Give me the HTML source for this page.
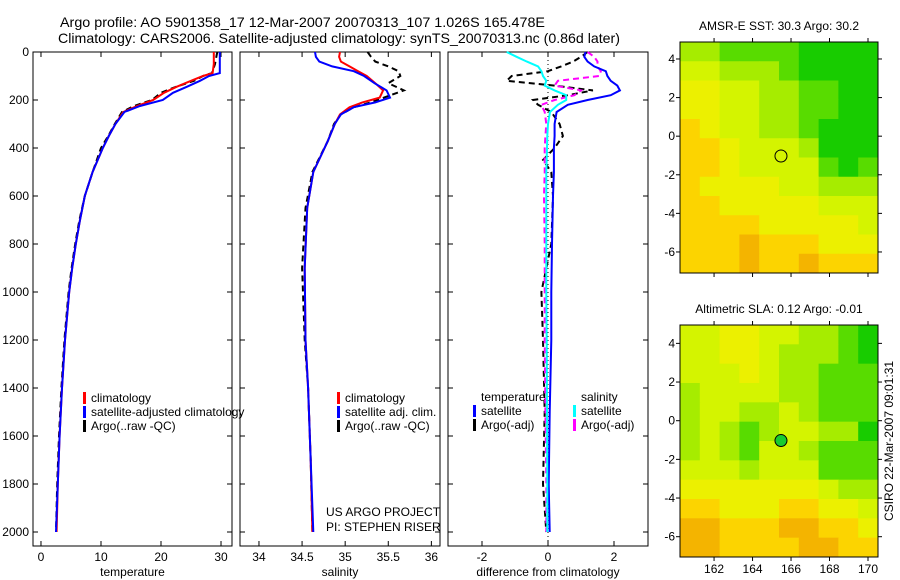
<!DOCTYPE html>
<html><head><meta charset="utf-8">
<style>
html,body{margin:0;padding:0;background:#fff;}
svg{display:block;font-family:"Liberation Sans",sans-serif;}
</style></head>
<body>
<svg id="fig" width="900" height="580" viewBox="0 0 900 580">
<text x="60" y="27" font-size="14" textLength="485" lengthAdjust="spacingAndGlyphs">Argo profile: AO 5901358_17 12-Mar-2007 20070313_107 1.026S 165.478E</text>
<text x="58" y="43" font-size="14" textLength="562" lengthAdjust="spacingAndGlyphs">Climatology: CARS2006. Satellite-adjusted climatology: synTS_20070313.nc (0.86d later)</text>
</svg>
<script>
// ---- temperature profile data ----
const tDepth=[0,10,50,88,100,120,145,170,200,225,250,300,350,400,500,600,700,800,900,1000,1200,1400,1600,1800,2000];
const tClim=[28.8,28.8,28.8,28.6,27,25,22.6,20.5,18.7,16,13.7,12.4,11.3,10.3,8.6,7.3,6.5,5.8,5.2,4.7,4.0,3.5,3.1,2.8,2.6];
const tSat=[29.8,29.8,29.8,29.8,28,26.5,24.3,22,20.3,16.5,13.9,12.4,11.3,10.3,8.6,7.3,6.5,5.8,5.2,4.7,4.0,3.5,3.1,2.8,2.5];
const tArgo=[29.4,29.3,29.0,28.5,27.0,25.5,22.5,20,18.5,15.5,13.5,12.3,11.2,10.0,8.6,7.3,6.4,5.7,5.1,4.6,3.9,3.4,3.0,2.7,2.5];
// ---- salinity profile data ----
const sDepth=[0,20,40,60,80,100,130,160,190,210,230,260,300,370,500,650,900,1200,1400,1700,2000];
const sClim=[34.94,34.93,34.95,35.05,35.15,35.25,35.35,35.44,35.4,35.2,35.05,34.94,34.88,34.8,34.63,34.56,34.53,34.54,34.57,34.6,34.62];
const sSat=[34.65,34.66,34.7,34.85,35.1,35.22,35.34,35.48,35.52,35.35,35.1,34.95,34.88,34.8,34.63,34.56,34.53,34.54,34.57,34.6,34.63];
const sArgo=[35.26,35.3,35.35,35.5,35.62,35.64,35.5,35.68,35.45,35.3,35.1,34.95,34.87,34.8,34.62,34.54,34.5,34.53,34.57,34.6,34.62];
// ---- difference data ----
const dDepth=[0,20,40,60,80,100,120,140,160,180,200,220,250,300,350,400,450,500,600,800,1000,1200,1500,1800,2000];
const dTempSat=[1.14,1.1,1.2,1.4,1.75,1.8,1.9,2.1,2.18,1.9,1.2,0.6,0.26,0.2,0.2,0.18,0.18,0.18,0.15,0.12,0.1,0.1,0.05,0.02,0.05];
const dTempArgo=[1.2,1.0,0.76,0.4,0.0,-1.1,-1.25,0.2,1.36,0.6,-0.45,-0.3,0.1,0.35,0.45,0.2,-0.15,0.1,0.15,0.1,-0.2,-0.15,-0.1,-0.15,-0.05];
const dSalSat=[-1.25,-0.95,-0.64,-0.3,-0.2,-0.15,-0.05,-0.1,0.2,0.55,0.55,0.3,0.06,0.0,-0.02,-0.03,-0.04,-0.05,-0.05,-0.05,-0.05,-0.04,-0.03,-0.02,-0.02];
const dSalArgo=[1.2,1.4,1.5,1.5,1.6,1.55,0.3,0.2,1.0,0.8,0.2,-0.2,-0.1,-0.05,-0.08,-0.1,-0.1,-0.1,-0.12,-0.1,-0.1,-0.1,-0.08,-0.05,-0.05];
// ---- ticks ----
const depthTicks=[0,200,400,600,800,1000,1200,1400,1600,1800,2000];
const tTicks=[0,10,20,30];
const sTicks=[34,34.5,35,35.5,36];
const dTicks=[-2,0,2];
const latTicks=[4,2,0,-2,-4,-6];
const lonTicks=[162,164,166,168,170];
// ---- map grids (colour index, rows north->south) ----
const sstGrid=[
[7,7,8,8,8,8,9,9,9,9],[6,6,7,7,7,8,9,9,9,9],[5,5,6,6,7,7,8,8,9,9],[5,5,6,6,7,7,8,8,9,9],
[4,5,6,6,7,7,8,9,9,9],[4,4,5,6,6,6,7,9,9,9],[4,4,5,6,6,6,6,8,9,8],[4,5,5,5,5,6,6,7,7,7],
[4,4,5,5,5,5,5,6,6,6],[4,4,4,4,5,5,5,5,5,6],[4,4,4,3,4,4,4,5,5,5],[4,4,4,3,4,4,3,4,4,4]];
const slaGrid=[
[6,6,5,5,6,6,7,7,8,9],[6,6,5,5,6,7,7,7,8,9],[6,6,6,5,6,7,7,8,8,8],[7,6,6,6,6,7,7,8,8,8],
[7,6,6,7,7,6,7,8,8,8],[7,6,7,8,7,6,6,7,7,9],[7,6,7,8,6,6,7,8,8,8],[6,6,6,7,6,6,6,8,8,8],
[5,5,5,5,5,5,5,6,7,7],[4,4,5,5,5,4,4,5,5,6],[3,3,4,4,4,3,3,4,4,5],[3,3,4,4,4,4,3,3,4,4]];
const argoLon=165.478, argoLat=-1.026;

const NS="http://www.w3.org/2000/svg";
const svg=document.getElementById('fig');
function mk(tag,attrs,parent){const e=document.createElementNS(NS,tag);for(const k in attrs)e.setAttribute(k,attrs[k]);(parent||svg).appendChild(e);return e;}

const yTop=52, pxPerM=0.24, yBot=546;
const yD=d=>yTop+d*pxPerM;
const panels=[
 {x0:33,x1:232,v0:-1.33,v1:31.83,ticks:tTicks,label:'temperature',name:'temperature'},
 {x0:240,x1:440,v0:33.78,v1:36.1,ticks:sTicks,label:'salinity',name:'salinity'},
 {x0:448,x1:648,v0:-3.03,v1:3.03,ticks:dTicks,label:'difference from climatology',name:'difference'}];
panels.forEach(p=>{p.sx=v=>p.x0+(v-p.v0)/(p.v1-p.v0)*(p.x1-p.x0);});

function drawLine(p,vals,depths,color,dash,name){
 const pts=vals.map((v,i)=>p.sx(v).toFixed(1)+','+yD(depths[i]).toFixed(1)).join(' ');
 const e=mk('polyline',{points:pts,fill:'none',stroke:color,'stroke-width':2,'stroke-dasharray':dash||'none'});
 
 
}

panels.forEach((p,pi)=>{
 const g=mk('g',{});
 
 
 mk('rect',{x:p.x0,y:yTop,width:p.x1-p.x0,height:yBot-yTop,fill:'#fff',stroke:'#000','stroke-width':1},g);
 p.ticks.forEach(t=>{
  const x=p.sx(t);
  mk('line',{x1:x,x2:x,y1:yBot,y2:yBot-5,stroke:'#000'},g);
  mk('line',{x1:x,x2:x,y1:yTop,y2:yTop+5,stroke:'#000'},g);
  const tx=mk('text',{x:x,y:yBot+15,'font-size':12,'text-anchor':'middle'},g);
  tx.textContent=String(t);
  
  
 });
 depthTicks.forEach(d=>{
  const y=yD(d);
  mk('line',{x1:p.x0,x2:p.x0+5,y1:y,y2:y,stroke:'#000'},g);
  mk('line',{x1:p.x1,x2:p.x1-5,y1:y,y2:y,stroke:'#000'},g);
  if(pi===0){const tx=mk('text',{x:p.x0-4,y:y+4,'font-size':12,'text-anchor':'end'},g);tx.textContent=String(d);
   
   }
 });
 const lab=mk('text',{x:(p.x0+p.x1)/2,y:576,'font-size':12,'text-anchor':'middle'},g);
 lab.textContent=p.label;
 
 
});

mk('line',{x1:panels[2].sx(0),x2:panels[2].sx(0),y1:yTop,y2:yBot,stroke:'#000','stroke-dasharray':'1,3'});

drawLine(panels[0],tArgo,tDepth,'#000','6,4','temp-argo-line');
drawLine(panels[0],tClim,tDepth,'#f00','','temp-clim-line');
drawLine(panels[0],tSat,tDepth,'#00f','','temp-sat-line');
drawLine(panels[1],sArgo,sDepth,'#000','6,4','sal-argo-line');
drawLine(panels[1],sClim,sDepth,'#f00','','sal-clim-line');
drawLine(panels[1],sSat,sDepth,'#00f','','sal-sat-line');
drawLine(panels[2],dTempArgo,dDepth,'#000','6,4','diff-temp-argo-line');
drawLine(panels[2],dSalArgo,dDepth,'#f0f','6,4','diff-sal-argo-line');
drawLine(panels[2],dTempSat,dDepth,'#00f','','diff-temp-sat-line');
drawLine(panels[2],dSalSat,dDepth,'#0ff','','diff-sal-sat-line');

function legend(x,y,color,text,name){
 if(color) mk('rect',{x:x,y:y-10,width:3,height:12,fill:color});
 const t=mk('text',{x:x+8,y:y,'font-size':12});
 t.textContent=text;
 
 
}
legend(83,402,'#f00','climatology','legend-climatology');
legend(83,416,'#00f','satellite-adjusted climatology','legend-satellite-adjusted');
legend(83,430,'#000','Argo(..raw -QC)','legend-argo-raw');
legend(337,402,'#f00','climatology','legend-sal-climatology');
legend(337,416,'#00f','satellite adj. clim.','legend-sal-satellite');
legend(337,430,'#000','Argo(..raw -QC)','legend-sal-argo');
legend(473,401,null,'temperature','legend-temp-header');
legend(473,415,'#00f','satellite','legend-temp-satellite');
legend(473,429,'#000','Argo(-adj)','legend-temp-argo');
legend(573,401,null,'salinity','legend-sal-header');
legend(573,415,'#0ff','satellite','legend-sal-sat');
legend(573,429,'#f0f','Argo(-adj)','legend-sal-argo-adj');
const us=mk('text',{x:326,y:516,'font-size':12});us.textContent='US ARGO PROJECT';


const pi2=mk('text',{x:326,y:531,'font-size':12});pi2.textContent='PI: STEPHEN RISER';



// ---- maps ----
const cmap={3:'#f4b400',4:'#fcd400',5:'#ecf000',6:'#d4f400',7:'#a6ec00',8:'#58dc00',9:'#18cc00'};
function drawMap(y0,y1,lat0,lat1,grid,title,showX,filled,name){
 const x0=680,x1=878,lon0=160.23,lon1=170.52;
 const sx=v=>x0+(v-lon0)/(lon1-lon0)*(x1-x0);
 const sy=v=>y0+(lat0-v)/(lat0-lat1)*(y1-y0);
 const g=mk('g',{});
 
 
 const rows=grid.length, cols=grid[0].length;
 const cw=(x1-x0)/cols, ch=(y1-y0)/rows;
 grid.forEach((row,r)=>row.forEach((v,c)=>{
  const cell=mk('rect',{x:x0+c*cw,y:y0+r*ch,width:cw+0.5,height:ch+0.5,fill:cmap[v]},g);
  
  
 }));
 mk('rect',{x:x0,y:y0,width:x1-x0,height:y1-y0,fill:'none',stroke:'#000'},g);
 latTicks.forEach(l=>{const y=sy(l);
  mk('line',{x1:x0,x2:x0-4,y1:y,y2:y,stroke:'#000'},g);
  mk('line',{x1:x1,x2:x1+4,y1:y,y2:y,stroke:'#000'},g);
  const t=mk('text',{x:x0-5,y:y+4,'font-size':12,'text-anchor':'end'},g);t.textContent=String(l);
  
  });
 lonTicks.forEach(l=>{const x=sx(l);
  mk('line',{x1:x,x2:x,y1:y0,y2:y0-4,stroke:'#000'},g);
  mk('line',{x1:x,x2:x,y1:y1,y2:y1+4,stroke:'#000'},g);
  if(showX){const t=mk('text',{x:x,y:y1+16,'font-size':12,'text-anchor':'middle'},g);t.textContent=String(l);
   
   }});
 const c=mk('circle',{cx:sx(argoLon),cy:sy(argoLat),r:6,fill:filled?'#18cc30':'none',stroke:'#000','stroke-width':1},g);
 
 
 const t=mk('text',{x:(x0+x1)/2,y:y0-12,'font-size':12,'text-anchor':'middle'},g);t.textContent=title;
 
 
}
drawMap(42,273,4.88,-7.09,sstGrid,'AMSR-E SST: 30.3 Argo: 30.2',false,false,'sst-map');
drawMap(325,557,4.95,-7.05,slaGrid,'Altimetric SLA: 0.12 Argo: -0.01',true,true,'sla-map');
const cs=mk('text',{x:0,y:0,'font-size':12,'text-anchor':'middle',transform:'translate(893,441) rotate(-90)'});
cs.textContent='CSIRO 22-Mar-2007 09:01:31';


</script>
</body></html>
